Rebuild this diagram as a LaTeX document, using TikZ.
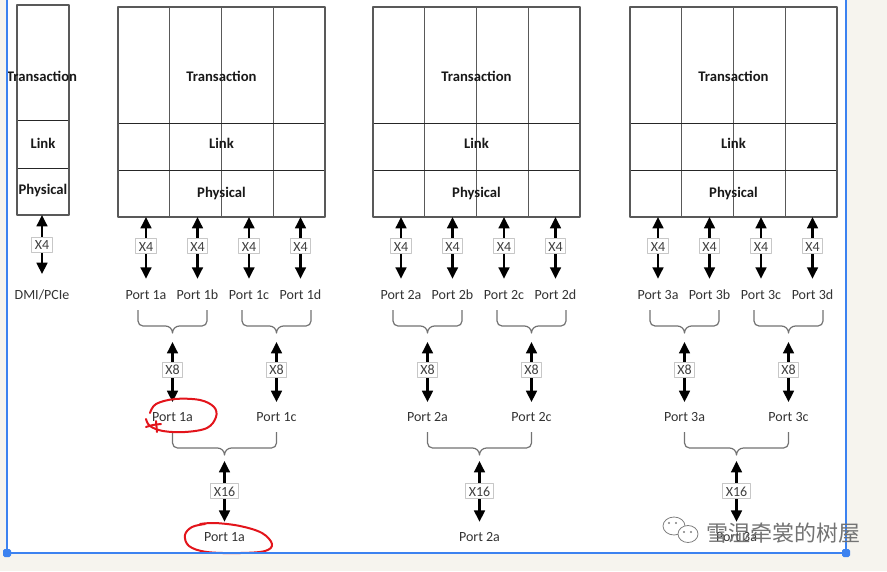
\documentclass[tikz,border=0pt]{standalone}
\usepackage{fontspec}
\setmainfont{Carlito}
\newfontfamily\cjkfont{Noto Sans CJK SC}
\usetikzlibrary{arrows.meta}
\definecolor{paper}{HTML}{F6F4EE}
\definecolor{selblue}{HTML}{3C82F0}
\definecolor{penred}{HTML}{E3141B}
\newcommand\curlybrace[4]{%
  \pgfmathsetmacro\cbA{#1}\pgfmathsetmacro\cbB{#2}%
  \pgfmathsetmacro\cbM{(#1+#2)/2}\pgfmathsetmacro\cbT{#3}%
  \draw[curly] (\cbA,\cbT) -- (\cbA,\cbT+11) to[out=-90,in=180] (\cbA+5,\cbT+16)
     -- (\cbM-7,\cbT+16) to[out=0,in=90] (\cbM,\cbT+23) to[out=90,in=180] (\cbM+7,\cbT+16)
     -- (\cbB-5,\cbT+16) to[out=0,in=-90] (\cbB,\cbT+11) -- (\cbB,\cbT);
  \coordinate (#4) at (\cbM,\cbT+23);}
\begin{document}
\begin{tikzpicture}[x=0.75pt,y=-0.75pt,line join=round,
  grid/.style={draw=black!85,line width=0.75pt},
  vgrid/.style={draw=black!65,line width=0.75pt},
  outline/.style={draw=black!65,line width=1.2pt},
  biarrow/.style={{Triangle[length=8.5pt,width=8pt]}-{Triangle[length=8.5pt,width=8pt]},line width=1.8pt,black},
  lanes/.style={draw=black!22,fill=white,line width=0.7pt,font=\fontsize{10.5}{12}\selectfont,text=black!75,
     inner xsep=2.2pt,inner ysep=2pt,text height=7.2pt,text depth=0pt},
  port/.style={font=\fontsize{10.5}{12}\selectfont,text=black!80,inner sep=0pt,text height=7pt,text depth=0pt},
  layer/.style={font=\bfseries\fontsize{11}{13}\selectfont,text=black!90,inner sep=0pt},
  curly/.style={draw=black!55,line width=0.9pt},
  redmark/.style={draw=penred,line width=1.5pt,line cap=round}]
\useasboundingbox (0,0) rectangle (887,571);
\fill[paper] (0,0) rectangle (887,571);
\fill[white] (7,0) rectangle (846,553);

% left stack
\draw[grid] (17,120) -- (69,120) (17,168) -- (69,168);
\draw[outline] (17,5) rectangle (69,215);
\node[layer] (t0) at (42,76) {Transaction};
\node[layer] (l0) at (43,143) {Link};
\node[layer] (ph0) at (43,191) {Physical};
\coordinate (b0) at (42,215);
\node[port] (dmi) at (42,295) {DMI/PCIe};
\draw[biarrow,shorten >=12pt] (b0) -- (dmi.north) node[lanes,pos=0.4] {X4};

% three large stacks
\foreach \L/\n in {118/1,373/2,630/3}{
  \foreach \k in {1,2,3}{\draw[vgrid] (\L+51.75*\k,7) -- (\L+51.75*\k,217);}
  \draw[grid] (\L,123) -- (\L+207,123) (\L,170) -- (\L+207,170);
  \draw[outline] (\L,7) rectangle (\L+207,217);
  \node[layer] (t\n) at (\L+103.5,76) {Transaction};
  \node[layer] (l\n) at (\L+103.5,143) {Link};
  \node[layer] (ph\n) at (\L+103.5,194) {Physical};
  \foreach \k/\c in {0/a,1/b,2/c,3/d}{
    \coordinate (b\n\c) at (\L+28+51.5*\k,217);
    \node[port] (p\n\c) at (\L+28+51.5*\k,295) {Port \n\c};
    \draw[biarrow,shorten >=8.5pt] (b\n\c) -- (p\n\c.north) node[lanes,pos=0.4] {X4};
  }
  \curlybrace{\L+20}{\L+89}{310}{ba\n}
  \curlybrace{\L+124}{\L+193}{310}{bc\n}
  \node[port] (q\n a) at (\L+54.5,417) {Port \n a};
  \node[port] (q\n c) at (\L+158.5,417) {Port \n c};
  \draw[biarrow,shorten <=6.75pt,shorten >=7.5pt] (ba\n) -- (q\n a.north) node[lanes,pos=0.47] {X8};
  \draw[biarrow,shorten <=6.75pt,shorten >=7.5pt] (bc\n) -- (q\n c.north) node[lanes,pos=0.47] {X8};
  \curlybrace{\L+54.5}{\L+158.5}{432}{bx\n}
  \node[port] (r\n) at (\L+106.5,537) {Port \n a};
  \draw[biarrow,shorten <=4.5pt,shorten >=7.7pt] (bx\n) -- (r\n.north) node[lanes,pos=0.47] {X16};
}

% red hand-drawn marks
\draw[redmark] plot[smooth,tension=0.6] coordinates {(150,413) (156,404) (175,399) (200,400) (214,407) (216,417) (207,428) (185,432) (163,431) (150,426) (146,419)};
\draw[redmark] plot[smooth,tension=0.6] coordinates {(146,427) (153,425) (161,424)};
\draw[redmark] (156,421) -- (157,432);
\draw[redmark] plot[smooth,tension=0.6] coordinates {(205,524) (192,527) (185,535) (189,546) (207,552) (240,553) (265,551) (272,544) (262,533) (240,526) (215,523) (200,524)};

% selection frame
\draw[selblue,line width=1.2pt] (7,0) -- (7,553) -- (846,553) -- (846,0);
\fill[selblue,rounded corners=1.2pt] (3,549) rectangle (11,557);
\fill[selblue,rounded corners=1.2pt] (842,549) rectangle (850,557);

% watermark
\draw[black!50,line width=0.6pt] (674,526) ellipse [x radius=11,y radius=9];
\draw[black!50,line width=0.6pt,fill=white] (688,534) ellipse [x radius=10,y radius=8.5];
\foreach \p in {(669,523),(676,523),(684,532),(691,532)}{\fill[black!50] \p circle (1.1);}
\node[font=\cjkfont\fontsize{16.5}{18}\selectfont,text=black!55,anchor=west,inner sep=0pt] (wm) at (706,533) {雪湿牵裳的树屋};
\end{tikzpicture}
\end{document}
